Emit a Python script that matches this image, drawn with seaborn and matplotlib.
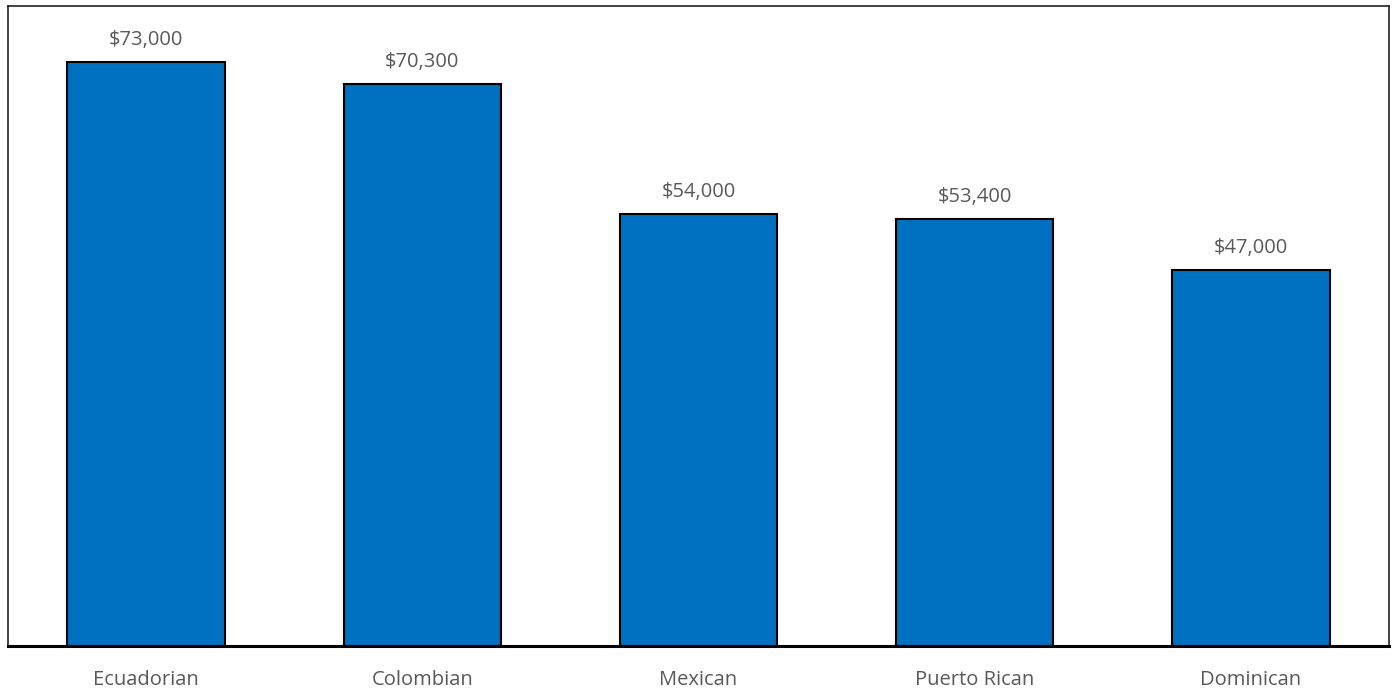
import matplotlib
matplotlib.use("Agg")
import matplotlib.pyplot as plt
import seaborn as sns
import pandas as pd

groups = ["Ecuadorian", "Colombian", "Mexican", "Puerto Rican", "Dominican"]
income = [73000, 70300, 54000, 53400, 47000]

df = pd.DataFrame({"group": groups, "income": income})

sns.set_theme(style="white")
plt.rcParams["font.family"] = ["Open Sans", "DejaVu Sans"]

fig = plt.figure(figsize=(13.95, 6.9), dpi=100)
ax = fig.add_axes([8 / 1395, 1 - 646 / 690, 1381 / 1395, 640 / 690])

sns.barplot(data=df, x="group", y="income", ax=ax, color="#0070C0",
            saturation=1, width=0.57, edgecolor="black", linewidth=1.5)

ax.set_ylim(0, 80000)
ax.set_xlim(-0.5, len(groups) - 0.5)
ax.set_yticks([])
ax.set_xlabel("")
ax.set_ylabel("")

for i, v in enumerate(income):
    ax.annotate(f"${v:,.0f}", (i, v), xytext=(0, 8.5), textcoords="offset points",
                ha="center", va="bottom", fontsize=14.5, color="#595959")

ax.tick_params(axis="x", length=0, pad=17.5, labelsize=14.5, labelcolor="#595959")

for side in ["top", "left", "right"]:
    ax.spines[side].set_color("#222222")
    ax.spines[side].set_linewidth(1.2)
ax.spines["bottom"].set_color("black")
ax.spines["bottom"].set_linewidth(2.2)

fig.savefig("out.png", dpi=100, facecolor="white")
